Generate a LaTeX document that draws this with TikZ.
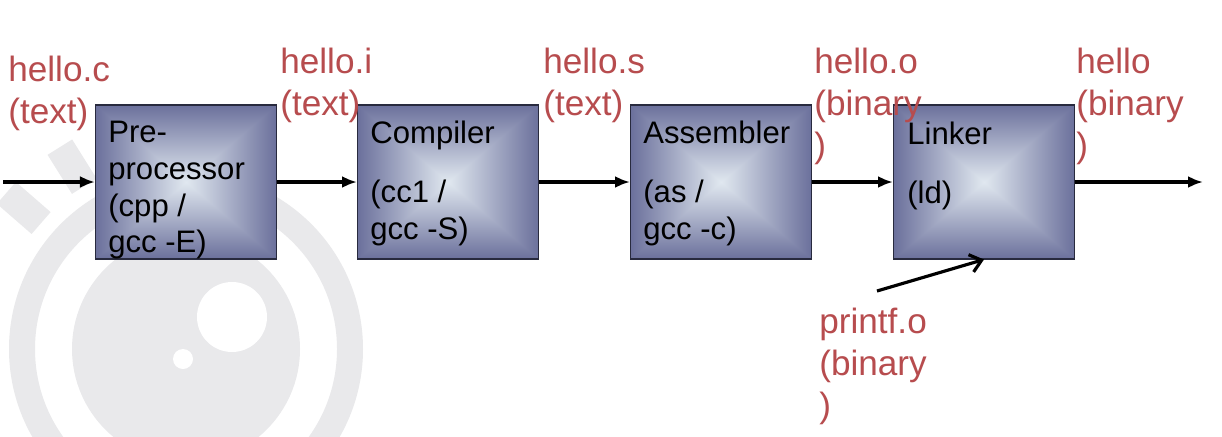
\documentclass[tikz,border=0pt]{standalone}
\usepackage{fontspec}
\setmainfont{Liberation Sans}
\usetikzlibrary{positioning, calc, arrows.meta}

\definecolor{filered}{RGB}{183,76,78}
\definecolor{wmgray}{RGB}{233,233,235}
\definecolor{boxline}{RGB}{40,42,62}

% light in the middle, slate blue towards every edge
\pgfdeclarefunctionalshading{boxglow}{\pgfpointorigin}{\pgfpoint{100bp}{100bp}}{}{
  50 sub abs exch 50 sub abs
  2 copy lt {exch} if pop
  25 div dup 1 gt {pop 1} if
  dup -0.46 mul 0.88 add
  exch dup -0.47 mul 0.91 add
  exch -0.33 mul 0.94 add
}

\begin{document}
\begin{tikzpicture}[x=0.02cm, y=-0.02cm]
        \tikzstyle{stage}=[draw=boxline, line width=0.6pt, shading=boxglow, minimum width=3.62cm, minimum height=3.08cm, inner sep=0pt];
        \tikzstyle{tool}=[anchor=north west, inner sep=0pt, align=left, font=\fontsize{17.7pt}{21pt}\selectfont];
        \tikzstyle{file}=[anchor=north west, inner sep=0pt, align=left, text=filered, font=\fontsize{20pt}{23.9pt}\selectfont];
        \tikzstyle{flow}=[line width=1.8pt, -{Latex[length=0.3cm, width=0.24cm]}];
        \path[fill=white, use as bounding box] (0,0) rectangle (1222,436);

        % watermark
        \fill[wmgray] (186,349) circle[radius=114];
        \fill[white] (232,317) circle[radius=35];
        \fill[white] (183,359) circle[radius=10];
        \draw[wmgray, line width=0.52cm] (186,349) circle[radius=164];
        \draw[wmgray, line width=0.58cm] (186,349) ++(-139:192) -- ++(-139:46);
        \draw[wmgray, line width=0.58cm] (186,349) ++(-122:192) -- ++(-122:46);

        \node[stage] (cpp) at (186,182) {};
        \node[stage, right=1.6cm of cpp] (cc1) {};
        \node[stage, right=1.82cm of cc1] (asm) {};
        \node[stage, right=1.62cm of asm] (ld) {};

        \node[tool] (cpptxt) at ($(cpp.north west)+(13,16)$) {Pre-\\processor\\(cpp /\\gcc -E)};
        \node[tool] (cc1txt) at ($(cc1.north west)+(13,16)$) {Compiler\\[0.44cm](cc1 /\\gcc -S)};
        \node[tool] (asmtxt) at ($(asm.north west)+(13,16)$) {Assembler\\[0.44cm](as /\\gcc -c)};
        \node[tool] (ldtxt) at ($(ld.north west)+(14,17)$) {Linker\\[0.44cm](ld)};

        \node[file] (srcc) at (8,56) {hello.c\\(text)};
        \node[file] (srci) at (280,48) {hello.i\\(text)};
        \node[file] (srcs) at (543,48) {hello.s\\(text)};
        \node[file] (objo) at (814,48) {hello.o\\(binary\\)};
        \node[file] (exe) at (1076,48) {hello\\(binary\\)};
        \node[file] (libo) at (819,308) {printf.o\\(binary\\)};

        \coordinate (srcin) at (3,182);
        \coordinate (sink) at (1203,182);
        \coordinate (libtail) at (877,291);

        \path[flow]
        (srcin) edge (cpp)
        (cpp) edge (cc1)
        (cc1) edge (asm)
        (asm) edge (ld)
        (ld) edge (sink);
        \draw[line width=1.8pt, -{Straight Barb[length=0.22cm, width=0.36cm]}] (libtail) -- (ld.south);
      \end{tikzpicture}
\end{document}
